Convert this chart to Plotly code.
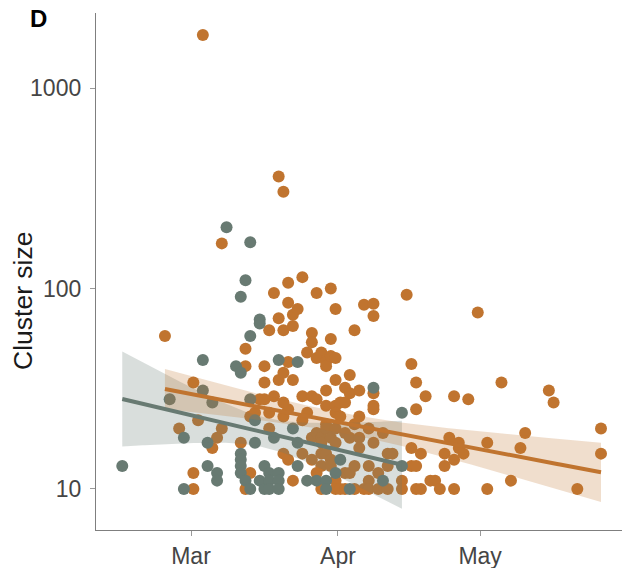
import numpy as np
import pandas as pd
import plotly.graph_objects as go

# ---- data -----------------------------------------------------------------
grey_dates = [
    "02-15", "02-25", "02-28", "02-28", "03-03", "03-03", "03-04", "03-04",
    "03-05", "03-06", "03-06", "03-08", "03-10", "03-11", "03-11", "03-11",
    "03-11", "03-11", "03-11", "03-12", "03-12", "03-13", "03-13", "03-13",
    "03-13", "03-14", "03-14", "03-15", "03-15", "03-15", "03-16", "03-16",
    "03-17", "03-17", "03-17", "03-18", "03-19", "03-19", "03-19", "03-19",
    "03-22", "03-23", "03-23", "03-23", "03-25", "03-27", "03-29", "03-29",
    "03-31", "04-01", "04-03", "04-08", "04-10", "04-14", "04-14",
]
grey_sizes = [
    13, 28, 18, 10, 44, 31, 17, 13,
    27, 12, 11, 202, 41, 38, 91, 15,
    14, 13, 12, 110, 11, 170, 58, 28,
    10, 22, 17, 70, 67, 11, 13, 10,
    12, 11, 10, 18, 44, 12, 11, 10,
    20, 43, 17, 13, 11, 11, 11, 10,
    12, 14, 10, 32, 11, 24, 13,
]

orange_dates = [
    "02-24", "02-27", "03-01", "03-01", "03-01", "03-02", "03-03", "03-05",
    "03-06", "03-07", "03-07", "03-11", "03-12", "03-12", "03-12", "03-13",
    "03-13", "03-14", "03-15", "03-16", "03-16", "03-16", "03-17", "03-17",
    "03-17", "03-18", "03-18", "03-19", "03-19", "03-19", "03-20", "03-20",
    "03-20", "03-20", "03-20", "03-20", "03-21", "03-21", "03-21", "03-21",
    "03-21", "03-22", "03-22", "03-22", "03-22", "03-23", "03-24", "03-24",
    "03-24", "03-24", "03-25", "03-25", "03-26", "03-26", "03-26", "03-26",
    "03-26", "03-27", "03-27", "03-27", "03-27", "03-27", "03-28", "03-28",
    "03-28", "03-28", "03-28", "03-28", "03-29", "03-29", "03-29", "03-29",
    "03-29", "03-29", "03-29", "03-29", "03-30", "03-30", "03-30", "03-30",
    "03-30", "03-30", "03-31", "03-31", "03-31", "03-31", "03-31", "03-31",
    "03-31", "03-31", "03-31", "04-01", "04-01", "04-01", "04-02", "04-02",
    "04-02", "04-02", "04-02", "04-03", "04-03", "04-03", "04-03", "04-04",
    "04-04", "04-04", "04-04", "04-05", "04-05", "04-05", "04-05", "04-06",
    "04-06", "04-07", "04-07", "04-07", "04-07", "04-08", "04-08", "04-08",
    "04-08", "04-08", "04-08", "04-09", "04-09", "04-10", "04-11", "04-11",
    "04-11", "04-12", "04-14", "04-14", "04-15", "04-16", "04-16", "04-16",
    "04-17", "04-17", "04-17", "04-17", "04-18", "04-18", "04-19", "04-20",
    "04-21", "04-22", "04-23", "04-23", "04-24", "04-25", "04-25", "04-25",
    "04-26", "04-26", "04-27", "04-28", "04-30", "05-02", "05-02", "05-05",
    "05-07", "05-09", "05-10", "05-15", "05-16", "05-21", "05-26", "05-26",
]
orange_sizes = [
    58, 20, 34, 12, 10, 22, 1840, 16,
    18, 168, 20, 17, 50, 41, 10, 23,
    12, 24, 28, 41, 34, 28, 62, 24,
    20, 95, 29, 362, 71, 35, 304, 62,
    38, 27, 23, 15, 107, 85, 43, 25,
    14, 74, 65, 35, 11, 79, 114, 29,
    22, 15, 48, 24, 60, 54, 29, 18,
    14, 95, 45, 28, 19, 12, 48, 18,
    17, 15, 13, 10, 44, 43, 41, 31,
    26, 21, 20, 15, 100, 56, 46, 18,
    14, 13, 79, 45, 35, 26, 24, 20,
    17, 11, 10, 27, 23, 10, 32, 27,
    19, 12, 10, 37, 30, 18, 12, 62,
    21, 13, 10, 31, 23, 18, 16, 83,
    10, 20, 13, 11, 10, 84, 73, 30,
    26, 25, 17, 12, 10, 19, 15, 13,
    10, 15, 11, 10, 93, 42, 16, 13,
    34, 25, 13, 10, 15, 10, 29, 11,
    11, 10, 15, 13, 18, 29, 14, 10,
    17, 16, 15, 28, 76, 17, 10, 34,
    11, 16, 19, 31, 27, 10, 20, 15,
]

# fitted trend (cluster size at first and last date of each group)
grey_trend = [28.1, 13.2]
orange_trend = [31.5, 12.1]
# 95% CI half-width in log10 units: at first date, at last date, narrowest
grey_ci_halfwidth = [0.2375, 0.22, 0.075]
orange_ci_halfwidth = [0.10, 0.1475, 0.05]

year = 2020
y_ticks = [10, 100, 1000]
x_ticks = ["2020-03-01", "2020-04-01", "2020-05-01"]
x_tick_text = ["Mar", "Apr", "May"]

ORANGE = "#C0742F"
GREY = "#687A72"
FONT = "Liberation Sans, Arial, sans-serif"
T0 = pd.Timestamp(f"{year}-01-01")


def to_times(md):
    # daily counts are placed at the middle of their day
    return pd.to_datetime([f"{year}-{d}" for d in md]) + pd.Timedelta(hours=12)


def trend_band(times, trend, halfwidth, n_grid=150):
    """Straight trend on the log scale with a hyperbolic confidence band."""
    x = np.asarray((times - T0) / pd.Timedelta(days=1), dtype=float)
    xs, xe, xc = x.min(), x.max(), x.mean()
    grid = np.linspace(xs, xe, n_grid)
    l0, l1 = np.log10(trend[0]), np.log10(trend[1])
    fit = l0 + (l1 - l0) * (grid - xs) / (xe - xs)
    h_start, h_end, h_min = halfwidth
    side_h = np.where(grid < xc, h_start, h_end)
    side_x = np.where(grid < xc, xs, xe)
    frac = (grid - xc) / (side_x - xc)
    hw = np.sqrt(h_min**2 + (side_h**2 - h_min**2) * frac**2)
    grid_t = T0 + pd.to_timedelta(grid, unit="D")
    return grid_t, 10**fit, 10 ** (fit - hw), 10 ** (fit + hw)


orange_t = to_times(orange_dates)
grey_t = to_times(grey_dates)

fig = go.Figure()

# points
fig.add_trace(go.Scatter(
    x=orange_t, y=orange_sizes, mode="markers",
    marker=dict(color=ORANGE, size=12, line=dict(width=0)),
    showlegend=False,
))
fig.add_trace(go.Scatter(
    x=grey_t, y=grey_sizes, mode="markers",
    marker=dict(color=GREY, size=12, line=dict(width=0)),
    showlegend=False,
))

# confidence bands, then the fitted lines on top
fits = []
for times, trend, hw, col, band in [
    (grey_t, grey_trend, grey_ci_halfwidth, GREY, "rgba(104,122,114,0.25)"),
    (orange_t, orange_trend, orange_ci_halfwidth, ORANGE, "rgba(192,116,47,0.24)"),
]:
    gt, fit, lo, hi = trend_band(times, trend, hw)
    fig.add_trace(go.Scatter(
        x=list(gt) + list(gt[::-1]),
        y=list(hi) + list(lo[::-1]),
        fill="toself", fillcolor=band, line=dict(width=0),
        mode="lines", hoverinfo="skip", showlegend=False,
    ))
    fits.append((gt, fit, col))

for gt, fit, col in fits:
    fig.add_trace(go.Scatter(
        x=gt, y=fit, mode="lines",
        line=dict(color=col, width=4),
        showlegend=False,
    ))

axis_font = dict(family=FONT, size=23, color="#454545")

fig.update_layout(
    width=622, height=568,
    margin=dict(l=96, r=0, t=13, b=38),
    paper_bgcolor="white", plot_bgcolor="white",
    font=axis_font,
    showlegend=False,
)

fig.update_xaxes(
    type="date",
    range=["2020-02-09 23:00", "2020-05-30 22:20"],
    tickvals=x_ticks, ticktext=x_tick_text,
    showgrid=False, zeroline=False,
    showline=True, linecolor="#7f7f7f", linewidth=1.3,
    ticks="outside", ticklen=5, tickcolor="#9a9a9a", tickwidth=1.3,
    tickfont=axis_font,
)
fig.update_yaxes(
    type="log",
    range=[0.795, 3.375],
    tickvals=y_ticks, ticktext=[str(v) for v in y_ticks],
    showgrid=False, zeroline=False,
    showline=True, linecolor="#7f7f7f", linewidth=1.3,
    ticks="outside", ticklen=5, tickcolor="#9a9a9a", tickwidth=1.3,
    tickfont=axis_font, ticklabelstandoff=4,
)

# axis title
fig.add_annotation(
    text="Cluster size", xref="paper", yref="paper",
    x=-0.1388, y=0.443, xanchor="center", yanchor="middle",
    textangle=-90, showarrow=False,
    font=dict(family=FONT, size=26.5, color="#1a1a1a"),
)

# panel letter
fig.add_annotation(
    text="<b>D</b>", xref="paper", yref="paper",
    x=-0.1290, y=1.0195, xanchor="left", yanchor="top",
    showarrow=False,
    font=dict(family=FONT, size=24, color="black"),
)

fig.write_html("out.html")
